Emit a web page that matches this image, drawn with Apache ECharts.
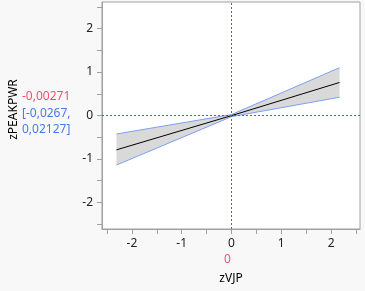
<!DOCTYPE html>
<html>
<head>
<meta charset="utf-8">
<script src="https://cdn.jsdelivr.net/npm/echarts@6/dist/echarts.min.js"></script>
<style>
  html, body { margin: 0; padding: 0; background: #f8f8f8; }
  #chart { width: 365px; height: 291px; }
</style>
</head>
<body>
<div id="chart"></div>
<script>
// fitted line and confidence band
var fitX = [-2.31, 0, 2.17];
var fitY = [-0.79, -0.00271, 0.76];
var upperY = [-0.425, 0.02127, 1.10];
var lowerY = [-1.14, -0.0267, 0.42];

var xTicks = [-2, -1, 0, 1, 2];
var xMinor = [-2.5, -2, -1.5, -1, -0.5, 0, 0.5, 1, 1.5, 2, 2.5];
var yTicks = [-2, -1, 0, 1, 2];
var yMinor = [-2.5, -2, -1.5, -1, -0.5, 0, 0.5, 1, 1.5, 2, 2.5];

var font = '"Noto Sans", "Open Sans", sans-serif';

function pairs(xs, ys) {
    var out = [];
    for (var i = 0; i < xs.length; i++) out.push([xs[i], ys[i]]);
    return out;
}

var chart = echarts.init(document.getElementById('chart'));

var option = {
    backgroundColor: '#f8f8f8',
    animation: false,
    grid: {
        left: 101, top: 2, right: 5, bottom: 62,
        show: true, backgroundColor: '#fff', borderColor: '#a0a0a0', borderWidth: 1
    },
    xAxis: {
        type: 'value',
        min: -2.6, max: 2.58,
        name: 'zVJP',
        nameLocation: 'middle',
        nameGap: 44,
        nameTextStyle: { color: '#000', fontSize: 12, fontFamily: font },
        axisLine: { show: true, onZero: false, lineStyle: { color: '#a0a0a0' } },
        axisTick: { show: true, customValues: xMinor, length: 5, lineStyle: { color: '#a0a0a0' } },
        axisLabel: { customValues: xTicks, color: '#222', fontSize: 12, fontFamily: font, margin: 9 },
        splitLine: { show: false }
    },
    yAxis: {
        type: 'value',
        min: -2.61, max: 2.61,
        name: 'zPEAKPWR',
        nameLocation: 'middle',
        nameGap: 82,
        nameTextStyle: { color: '#000', fontSize: 12, fontFamily: font, padding: [0, 0, 0, 12] },
        axisLine: { show: true, onZero: false, lineStyle: { color: '#a0a0a0' } },
        axisTick: { show: true, customValues: yMinor, length: 5, lineStyle: { color: '#a0a0a0' } },
        axisLabel: { customValues: yTicks, color: '#222', fontSize: 12, fontFamily: font, margin: 9 },
        splitLine: { show: false }
    },
    series: [
        {
            // shaded confidence band
            type: 'custom',
            data: [0],
            silent: true,
            z: 1,
            renderItem: function (params, api) {
                var pts = [];
                var i;
                for (i = 0; i < fitX.length; i++) pts.push(api.coord([fitX[i], upperY[i]]));
                for (i = fitX.length - 1; i >= 0; i--) pts.push(api.coord([fitX[i], lowerY[i]]));
                return {
                    type: 'polygon',
                    shape: { points: pts },
                    style: { fill: '#d9d9d9' }
                };
            }
        },
        {
            type: 'line',
            data: pairs(fitX, upperY),
            symbol: 'none',
            z: 3,
            lineStyle: { color: '#7f9ff0', width: 1 }
        },
        {
            type: 'line',
            data: pairs(fitX, lowerY),
            symbol: 'none',
            z: 3,
            lineStyle: { color: '#7f9ff0', width: 1 }
        },
        {
            type: 'line',
            data: pairs(fitX, fitY),
            symbol: 'none',
            z: 4,
            lineStyle: { color: '#000', width: 1 },
            markLine: {
                silent: true,
                symbol: 'none',
                label: { show: false },
                lineStyle: { color: '#d8303f', type: [2, 2], width: 1 },
                data: [{ xAxis: 0 }, { yAxis: 0 }]
            }
        }
    ],
    graphic: [
        { type: 'text', left: 22, top: 91, style: { text: '-0,00271', fill: '#f0506e', font: '12px ' + font } },
        { type: 'text', left: 22, top: 108, style: { text: '[-0,0267,', fill: '#4a78e6', font: '12px ' + font } },
        { type: 'text', left: 22, top: 124, style: { text: '0,02127]', fill: '#4a78e6', font: '12px ' + font } },
        { type: 'text', left: 224, top: 254, style: { text: '0', fill: '#f0508c', font: '12px ' + font } }
    ]
};

chart.setOption(option);
</script>
</body>
</html>
